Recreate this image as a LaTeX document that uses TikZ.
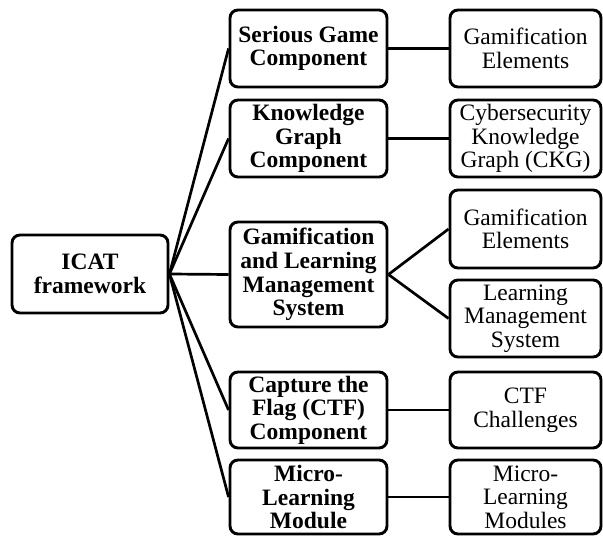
\documentclass[tikz,border=0pt]{standalone}
\usepackage{fontspec}
\setmainfont{Liberation Serif}
\begin{document}
\begin{tikzpicture}[x=1pt,y=1pt,
  box/.style={draw, line width=2.9pt, rounded corners=8pt, align=center,
    inner sep=0pt, font=\fontsize{23.5}{23.6}\selectfont},
  mainbox/.style={box, font=\fontsize{23.5}{23.6}\selectfont\bfseries},
  link/.style={line width=2.7pt}]
\useasboundingbox (0,0) rectangle (603,536);

% root
\node[mainbox, minimum width=156pt, minimum height=78pt] (root) at (90,262) {ICAT\\framework};

% components
\node[mainbox, minimum width=157pt, minimum height=77pt] (sg) at (308.5,487.5) {Serious Game\\Component};
\node[mainbox, minimum width=157pt, minimum height=77pt] (kg) at (308.5,397.5) {Knowledge\\Graph\\Component};
\node[mainbox, minimum width=157pt, minimum height=105pt] (glms) at (308.5,261.5) {Gamification\\and Learning\\Management\\System};
\node[mainbox, minimum width=157pt, minimum height=76pt] (ctf) at (308.5,126) {Capture the\\Flag (CTF)\\Component};
\node[mainbox, minimum width=157pt, minimum height=74pt] (ml) at (308.5,39) {Micro-\\Learning\\Module};

% sub-elements
\node[box, minimum width=151pt, minimum height=77pt] (ge1) at (525.5,487.5) {Gamification\\Elements};
\node[box, minimum width=151pt, minimum height=77pt] (ckg) at (525.5,397.5) {Cybersecurity\\Knowledge\\Graph (CKG)};
\node[box, minimum width=151pt, minimum height=78pt] (ge2) at (525.5,307) {Gamification\\Elements};
\node[box, minimum width=151pt, minimum height=77pt] (lms) at (525.5,217.5) {Learning\\Management\\System};
\node[box, minimum width=151pt, minimum height=76pt] (ctfc) at (525.5,126) {CTF\\Challenges};
\node[box, minimum width=151pt, minimum height=74pt] (mlm) at (525.5,39) {Micro-\\Learning\\Modules};

% connectors
\foreach \t in {sg,kg,glms,ctf,ml}
  \draw[link] (root.east) -- (\t.west);
\draw[link] (sg.east) -- (ge1.west);
\draw[link] (kg.east) -- (ckg.west);
\draw[link] (glms.east) -- (ge2.west);
\draw[link] (glms.east) -- (lms.west);
\draw[link] (ctf.east) -- (ctfc.west);
\draw[link] (ml.east) -- (mlm.west);
\end{tikzpicture}
\end{document}
